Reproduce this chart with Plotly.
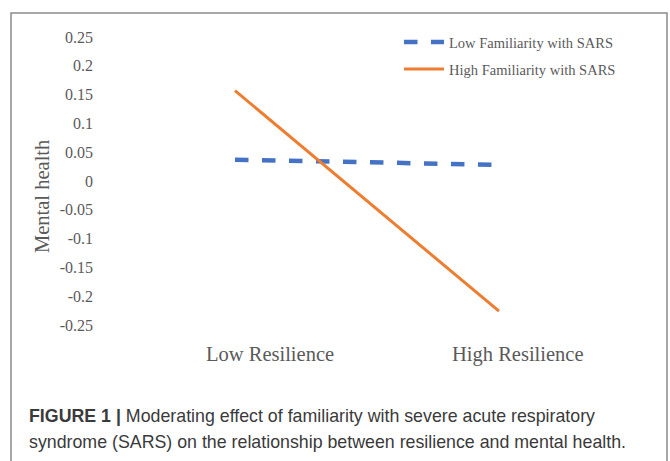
import plotly.graph_objects as go

categories = ["Low Resilience", "High Resilience"]
low_familiarity = [0.037, 0.028]
high_familiarity = [0.157, -0.226]
series_names = ["Low Familiarity with SARS", "High Familiarity with SARS"]
y_ticks = [0.25, 0.2, 0.15, 0.1, 0.05, 0, -0.05, -0.1, -0.15, -0.2, -0.25]
y_ticktext = ["0.25", "0.2", "0.15", "0.1", "0.05", "0", "-0.05", "-0.1", "-0.15", "-0.2", "-0.25"]

W, H = 670, 461
L, R, T, B = 103, 39, 37, 136
pw, ph = W - L - R, H - T - B

def px(x):
    return (x - L) / pw

def py(y):
    return (H - B - y) / ph

SERIF = "Liberation Serif, Times New Roman, serif"
GREY = "#5a5a5a"

fig = go.Figure()
fig.add_trace(go.Scatter(x=[0, 1], y=low_familiarity, mode="lines", name=series_names[0],
                         line=dict(color="#4472C4", width=4.5, dash="dash"), legend="legend"))
fig.add_trace(go.Scatter(x=[0, 1], y=high_familiarity, mode="lines", name=series_names[1],
                         line=dict(color="#ED7D31", width=3), legend="legend2"))

fig.update_layout(
    width=W, height=H,
    margin=dict(l=L, r=R, t=T, b=B),
    paper_bgcolor="white", plot_bgcolor="white",
    showlegend=True,
    legend=dict(x=px(399), y=py(42), xanchor="left", yanchor="middle",
                font=dict(family=SERIF, size=14.5, color=GREY), bgcolor="rgba(0,0,0,0)",
                itemwidth=40),
    legend2=dict(x=px(399), y=py(69), xanchor="left", yanchor="middle",
                 font=dict(family=SERIF, size=14.5, color=GREY), bgcolor="rgba(0,0,0,0)",
                 itemwidth=40),
    xaxis=dict(range=[-0.5, 1.5], showgrid=False, zeroline=False, showline=False,
               showticklabels=False, fixedrange=True),
    yaxis=dict(range=[-0.25, 0.25], tickvals=y_ticks, ticktext=y_ticktext,
               showgrid=False, zeroline=False, showline=False,
               tickfont=dict(family=SERIF, size=16, color=GREY), ticklabelstandoff=9),
)

# category labels
label_x = [270, 518]
for cat, lx in zip(categories, label_x):
    fig.add_annotation(x=px(lx), y=py(354), xref="paper", yref="paper", text=cat,
                       showarrow=False, xanchor="center", yanchor="middle",
                       font=dict(family=SERIF, size=20.5, color=GREY))

# y-axis title
fig.add_annotation(x=px(42), y=py(197), xref="paper", yref="paper", text="Mental health",
                   showarrow=False, textangle=-90, xanchor="center", yanchor="middle",
                   font=dict(family=SERIF, size=20.5, color=GREY))

# caption
CAP = dict(family="Liberation Sans, Arial, sans-serif", size=17.8, color="#3a3a3a")
fig.add_annotation(x=px(27), y=py(416), xref="paper", yref="paper",
                   text="<b>FIGURE 1 |</b> Moderating effect of familiarity with severe acute respiratory",
                   showarrow=False, xanchor="left", yanchor="middle", font=CAP)
fig.add_annotation(x=px(27), y=py(442), xref="paper", yref="paper",
                   text="syndrome (SARS) on the relationship between resilience and mental health.",
                   showarrow=False, xanchor="left", yanchor="middle", font=CAP)

# outer frame (no bottom edge)
fig.add_shape(type="path", xref="paper", yref="paper",
              path=f"M {px(11)} {py(470)} L {px(11)} {py(13)} L {px(667)} {py(13)} L {px(667)} {py(470)}",
              line=dict(color="#8a8a8a", width=1.5))

fig.write_html("out.html", config={"displayModeBar": False},
               post_script="document.body.style.margin='0';")
